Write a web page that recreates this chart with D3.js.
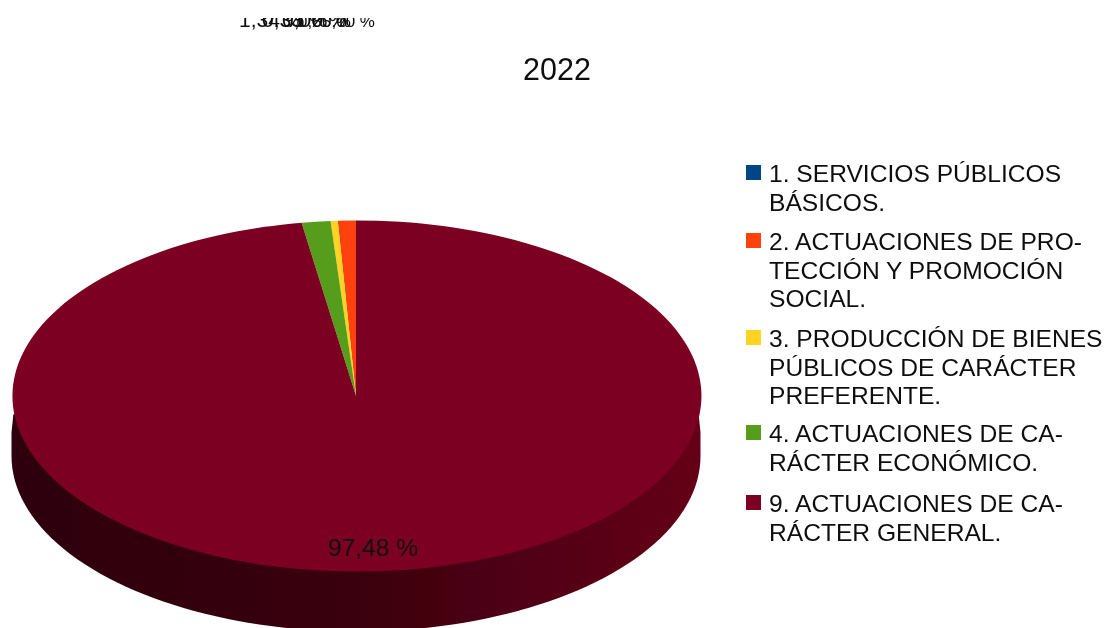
<!DOCTYPE html>
<html><head><meta charset="utf-8">
<script src="https://cdn.jsdelivr.net/npm/d3@7/dist/d3.min.js"></script>
<style>html,body{margin:0;background:#fff;overflow:hidden}svg{display:block}text{font-family:"Liberation Sans",Arial,sans-serif;fill:#111}</style>
</head><body><script>
const categories=["1. SERVICIOS PÚBLICOS BÁSICOS.","2. ACTUACIONES DE PROTECCIÓN Y PROMOCIÓN SOCIAL.","3. PRODUCCIÓN DE BIENES PÚBLICOS DE CARÁCTER PREFERENTE.","4. ACTUACIONES DE CARÁCTER ECONÓMICO.","9. ACTUACIONES DE CARÁCTER GENERAL."];
const values=[0.0,0.85,0.33,1.34,97.48];
const valueLabels=["0,00 %","0,85 %","0,33 %","1,34 %","97,48 %"];
const colors=["#004586","#ff420e","#ffd320","#579d1c","#7b0020"];
const legendLines=[["1. SERVICIOS PÚBLICOS","BÁSICOS."],["2. ACTUACIONES DE PRO-","TECCIÓN Y PROMOCIÓN","SOCIAL."],["3. PRODUCCIÓN DE BIENES","PÚBLICOS DE CARÁCTER","PREFERENTE."],["4. ACTUACIONES DE CA-","RÁCTER ECONÓMICO."],["9. ACTUACIONES DE CA-","RÁCTER GENERAL."]];
const legendY=[173,241,338,433,503];
const W=1105,H=628,cx=356,cy=396,rx=344.5,ry=175.5,depth=60;
const svg=d3.select("body").append("svg").attr("width",W).attr("height",H);
const defs=svg.append("defs");
defs.append("filter").attr("id","soft").attr("x",0).attr("y",0).attr("width",1).attr("height",1).append("feGaussianBlur").attr("stdDeviation",0.7);
const g=defs.append("linearGradient").attr("id","sideGrad").attr("x1",0).attr("x2",1).attr("y1",0).attr("y2",0);
[[0,"#2d0009"],[0.5,"#3a000d"],[0.72,"#4e0014"],[1,"#650019"]].forEach(s=>g.append("stop").attr("offset",s[0]).attr("stop-color",s[1]));
defs.append("clipPath").attr("id","topClip").append("rect").attr("x",0).attr("y",18).attr("width",W).attr("height",14);
const root=svg.append("g").attr("filter","url(#soft)");
const pie=d3.pie().sort(null).value(d=>d).startAngle(0).endAngle(-2*Math.PI);
const arcs=pie(values);
const sx=d3.scaleLinear().domain([-1,1]).range([cx-rx,cx+rx]);
const sy=d3.scaleLinear().domain([-1,1]).range([cy-ry,cy+ry]);
const rim=d3.range(0,181,2).map(a=>a*Math.PI/180);
const inset=6*Math.PI/180;
const side=d3.path();
// start just inside the top face so no corner shows outside the ellipse
side.moveTo(sx(-Math.cos(inset)),sy(Math.sin(inset)));
side.lineTo(sx(Math.cos(inset)),sy(Math.sin(inset)));
side.lineTo(sx(1),sy(Math.sin(inset*2)));
rim.forEach(a=>side.lineTo(sx(Math.cos(a)),sy(Math.sin(a))+depth));
side.lineTo(sx(-1),sy(Math.sin(inset*2)));
side.closePath();
root.append("path").attr("d",side.toString()).attr("fill","url(#sideGrad)");
const arc=d3.arc().innerRadius(0).outerRadius(1);
const pieG=root.append("g").attr("transform",`translate(${cx},${cy}) scale(${rx},${ry})`);
pieG.selectAll("path").data(arcs).join("path").attr("d",arc).attr("fill",(d,i)=>colors[i]);
const small=root.append("g").attr("clip-path","url(#topClip)");
small.append("text").attr("x",239).attr("y",27).attr("font-size",21).text(valueLabels[3]);
small.append("text").attr("x",262).attr("y",27).attr("font-size",21).text(valueLabels[2]);
small.append("text").attr("x",282).attr("y",27).attr("font-size",21).text(valueLabels[0]);
small.append("text").attr("x",298).attr("y",27).attr("font-size",17).text(valueLabels[1]);
small.append("text").attr("x",322).attr("y",27).attr("font-size",17).text(valueLabels[0]);
root.append("text").attr("x",373).attr("y",556).attr("text-anchor","middle").attr("font-size",24.5).text(valueLabels[4]);
root.append("text").attr("x",557).attr("y",80).attr("text-anchor","middle").attr("font-size",30.5).text("2022");
const lg=root.append("g").selectAll("g").data(legendLines).join("g").attr("transform",(d,i)=>`translate(0,${legendY[i]})`);
lg.append("rect").attr("x",746).attr("y",-8).attr("width",15).attr("height",15).attr("fill",(d,i)=>colors[i]);
lg.each(function(lines){const s=d3.select(this);lines.forEach((t,j)=>s.append("text").attr("x",769).attr("y",9+j*28.5).attr("font-size",24.6).text(t));});
</script></body></html>
